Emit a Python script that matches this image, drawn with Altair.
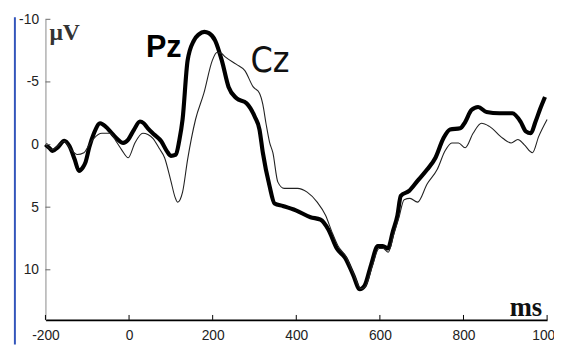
import altair as alt
import pandas as pd

# ---- data (ms, microvolts; negative plotted upward) ----
pz_ms = [-200, -190, -183, -170, -155, -143, -130, -120, -110, -104, -95, -84, -69, -55, -45, -30, -14, -2,
         12, 26, 35, 45, 60, 77, 90, 100, 112, 120, 128, 140, 155, 167, 180, 191, 206, 222, 238, 257, 281,
         301, 312, 320, 336, 348, 368, 399, 434, 458, 477, 497, 517, 536, 552, 563, 579, 595, 607, 619, 631,
         642, 650, 670, 690, 713, 733, 752, 768, 792, 804, 819, 835, 855, 886, 917, 937, 949, 961, 972, 984, 995]
pz_uv = [0.0, 0.3, 0.5, 0.2, -0.3, 0.1, 1.2, 2.1, 1.8, 1.4, 0.2, -0.9, -1.7, -1.4, -1.05, -0.5, -0.13, -0.4,
         -1.2, -1.84, -1.7, -1.3, -0.8, -0.26, 0.5, 0.9, 0.8, -0.3, -2.0, -6.7, -8.3, -8.8, -9.0, -8.9, -8.3,
         -6.7, -4.6, -3.7, -3.3, -2.2, -1.2, 0.65, 3.3, 4.7, 4.9, 5.25, 5.8, 6.0, 6.8, 8.3, 9.05, 10.4, 11.55,
         11.3, 9.6, 8.1, 8.1, 8.3, 6.95, 5.65, 4.1, 3.7, 2.9, 2.0, 1.05, -0.5, -1.2, -1.3, -1.8, -2.75, -3.0,
         -2.6, -2.5, -2.5, -1.8, -1.05, -0.9, -1.8, -2.9, -3.8]

cz_ms = [-200, -183, -170, -155, -139, -124, -108, -95, -84, -65, -45, -30, -18, -2, 14, 33, 45, 57, 72, 85,
         100, 110, 116, 122, 128, 140, 159, 179, 199, 210, 220, 230, 257, 277, 297, 312, 320, 328, 336, 344,
         356, 371, 403, 426, 450, 470, 485, 500, 520, 538, 555, 566, 582, 598, 608, 620, 633, 645, 658, 672,
         690, 713, 737, 756, 772, 788, 804, 823, 843, 862, 894, 914, 930, 945, 965, 980, 1000]
cz_uv = [0.0, 0.4, 0.1, -0.26, 0.4, 0.8, 0.65, 0.0, -0.5, -0.9, -0.9, -0.2, 0.4, 1.05, -0.13, -0.9, -0.8,
         -0.5, 0.3, 1.05, 2.9, 4.2, 4.6, 4.4, 3.8, 1.2, -2.0, -4.1, -6.7, -7.35, -7.3, -7.0, -6.4, -5.9, -4.6,
         -4.1, -3.2, -1.6, -0.2, 0.65, 3.0, 3.5, 3.5, 3.8, 4.6, 5.65, 6.95, 8.1, 9.0, 10.4, 11.5, 11.3, 9.7,
         8.3, 8.3, 8.6, 7.2, 5.9, 4.4, 4.3, 4.6, 3.15, 2.0, 0.5, -0.13, -0.13, 0.26, -0.9, -1.7, -1.45, -0.5,
         -0.13, -0.4, 0.0, 0.65, -0.65, -2.0]

x_ticks = [-200, 0, 200, 400, 600, 800, 1000]
y_ticks = [-10, -5, 0, 5, 10]
series_labels = ["Pz", "Cz"]

pz = pd.DataFrame({"ms": pz_ms, "uv": pz_uv})
cz = pd.DataFrame({"ms": cz_ms, "uv": cz_uv})
xt = pd.DataFrame({"ms": x_ticks})
yt = pd.DataFrame({"uv": y_ticks})

FONT = "Liberation Sans"
xscale = alt.Scale(domain=[-200, 1000], nice=False, zero=False)
yscale = alt.Scale(domain=[-10, 14], reverse=True, nice=False, zero=False)

xaxis = alt.Axis(values=x_ticks, title=None, grid=False, tickSize=0, labelPadding=9, labelFlush=False,
                 labelExpr="'' + datum.value", labelOverlap=False, labelBound=False,
                 domainColor="#000000", domainWidth=1.6, labelFont=FONT, labelFontSize=14, labelColor="#222222")
yaxis = alt.Axis(values=y_ticks, title=None, grid=False, tickSize=0, labelPadding=7, labelFlush=False,
                 labelExpr="'' + datum.value",
                 domainColor="#888888", domainWidth=1, labelFont=FONT, labelFontSize=14, labelColor="#222222")

base_pz = alt.Chart(pz).mark_line(color="#000000", strokeWidth=4.2, interpolate="monotone").encode(
    x=alt.X("ms:Q", scale=xscale, axis=xaxis),
    y=alt.Y("uv:Q", scale=yscale, axis=yaxis),
)
line_cz = alt.Chart(cz).mark_line(color="#222222", strokeWidth=1.1, interpolate="monotone").encode(
    x=alt.X("ms:Q", scale=xscale),
    y=alt.Y("uv:Q", scale=yscale),
)

# inward tick marks
xtick_rules = alt.Chart(xt).mark_rule(color="#000000", strokeWidth=1).encode(
    x=alt.X("ms:Q", scale=xscale),
    y=alt.value(300),
    y2=alt.value(305),
)
ytick_rules = alt.Chart(yt).mark_rule(color="#666666", strokeWidth=1).encode(
    y=alt.Y("uv:Q", scale=yscale),
    x=alt.value(0),
    x2=alt.value(5),
)

pz_label = alt.Chart(pd.DataFrame({"t": [series_labels[0]]})).mark_text(
    font=FONT, fontSize=31, fontWeight="bold", color="#000000", align="left", baseline="alphabetic"
).encode(text="t:N", x=alt.value(102), y=alt.value(38))
cz_label = alt.Chart(pd.DataFrame({"t": [series_labels[1]]})).mark_text(
    font="DejaVu Sans Condensed, Liberation Sans, sans-serif", fontSize=36, fontWeight="normal",
    color="#111111", align="left", baseline="alphabetic"
).encode(text="t:N", x=alt.value(208), y=alt.value(53))

uv_label = alt.Chart(pd.DataFrame({"t": ["μV"]})).mark_text(
    font="Liberation Serif", fontSize=24, fontWeight="bold", color="#333333", align="left", baseline="alphabetic"
).encode(text="t:N", x=alt.value(4), y=alt.value(21))
ms_label = alt.Chart(pd.DataFrame({"t": ["ms"]})).mark_text(
    font="Liberation Serif", fontSize=27, fontWeight="bold", color="#111111", align="left", baseline="alphabetic"
).encode(text="t:N", x=alt.value(471), y=alt.value(301))

edge = alt.Chart(pd.DataFrame({"k": [0]})).mark_rule(color="#3355bb", strokeWidth=2).encode(
    x=alt.value(-31), y=alt.value(-2), y2=alt.value(330)
)

chart = alt.layer(
    edge, base_pz, line_cz, xtick_rules, ytick_rules, pz_label, cz_label, uv_label, ms_label
).properties(
    width=509, height=305,
    autosize=alt.AutoSizeParams(type="none"),
    padding={"left": 38, "top": 9, "right": 7, "bottom": 23},
    background="#ffffff",
).configure_view(stroke=None)

chart.save("out.html", embed_options={"renderer": "svg", "actions": False})
